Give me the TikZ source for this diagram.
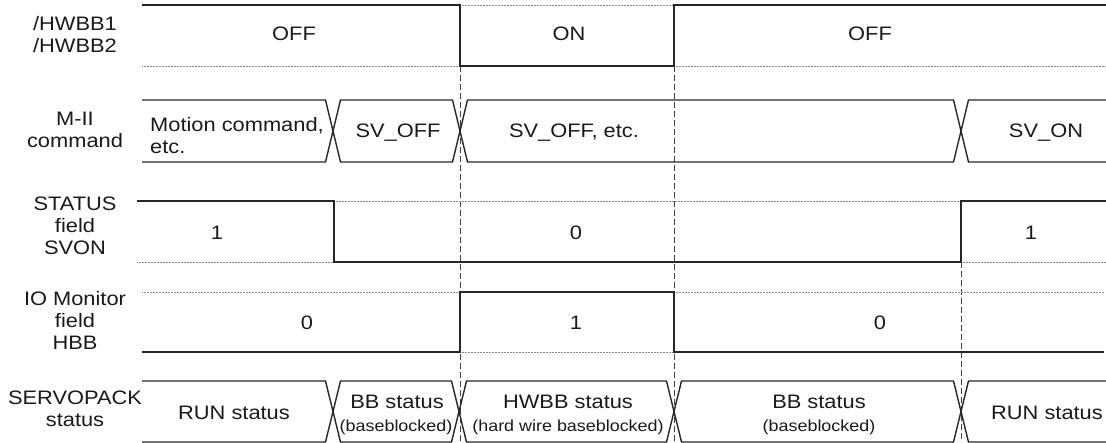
\documentclass[tikz,border=0pt]{standalone}
\usepackage{fontspec}
\setmainfont{Liberation Sans}[FakeStretch=1.12]
\tikzset{
  sig/.style={line width=1.4pt, black!85, line join=miter},
  dotl/.style={line width=0.7pt, black!45, dash pattern=on 1pt off 0.5pt},
  vdash/.style={line width=0.7pt, black!75, dash pattern=on 6pt off 3pt},
  txt/.style={font=\fontsize{19.5}{22}\selectfont, text=black!90, align=center, inner sep=0pt},
  sml/.style={font=\fontsize{16}{18}\selectfont, text=black!90, align=center, inner sep=0pt},
}
\begin{document}
\begin{tikzpicture}[x=1pt,y=-1pt]
\useasboundingbox (0,0) rectangle (1106,443);
% ---------- dashed guide lines ----------
\coordinate (d1t) at (460,66);  \coordinate (d1b) at (460,442);
\coordinate (d2t) at (674,66);  \coordinate (d2b) at (674,442);
\coordinate (d3t) at (961,262); \coordinate (d3b) at (961,442);
\draw[vdash] (d1t) -- (d1b);
\draw[vdash] (d2t) -- (d2b);
\draw[vdash] (d3t) -- (d3b);
% ---------- row 1: /HWBB ----------
\draw[dotl] (142,66) -- (460,66);
\draw[dotl] (460,5) -- (674,5);
\draw[dotl] (674,66) -- (1106,66);
\draw[sig] (142,5) -- (460,5) -- (460,66) -- (674,66) -- (674,5) -- (1106,5);
% ---------- row 2: M-II command ----------
\def\h{7.5}
\draw[sig] (142,100) -- (333-\h,100) -- (333,131) -- (333-\h,162) -- (142,162);
\draw[sig] (333+\h,100) -- (460-\h,100) -- (460,131) -- (460-\h,162) -- (333+\h,162) -- (333,131) -- cycle;
\draw[sig] (460+\h,100) -- (961-\h,100) -- (961,131) -- (961-\h,162) -- (460+\h,162) -- (460,131) -- cycle;
\draw[sig] (1106,100) -- (961+\h,100) -- (961,131) -- (961+\h,162) -- (1106,162);
% ---------- row 3: STATUS SVON ----------
\draw[dotl] (334,201) -- (961,201);
\draw[dotl] (137,262) -- (334,262);
\draw[dotl] (961,262) -- (1106,262);
\draw[sig] (137,201) -- (334,201) -- (334,262) -- (961,262) -- (961,201) -- (1106,201);
% ---------- row 4: IO Monitor HBB ----------
\draw[dotl] (142,292) -- (460,292);
\draw[dotl] (674,292) -- (1104,292);
\draw[dotl] (460,352) -- (674,352);
\draw[sig] (142,352) -- (460,352) -- (460,292) -- (674,292) -- (674,352) -- (1104,352);
% ---------- row 5: SERVOPACK status ----------
\draw[sig] (142,381) -- (333-\h,381) -- (333,411.5) -- (333-\h,442) -- (142,442);
\draw[sig] (333+\h,381) -- (459-\h,381) -- (459,411.5) -- (459-\h,442) -- (333+\h,442) -- (333,411.5) -- cycle;
\draw[sig] (459+\h,381) -- (674-\h,381) -- (674,411.5) -- (674-\h,442) -- (459+\h,442) -- (459,411.5) -- cycle;
\draw[sig] (674+\h,381) -- (961-\h,381) -- (961,411.5) -- (961-\h,442) -- (674+\h,442) -- (674,411.5) -- cycle;
\draw[sig] (1106,381) -- (961+\h,381) -- (961,411.5) -- (961+\h,442) -- (1106,442);
% ---------- left labels ----------
\node[txt] (l1) at (75,35) {/HWBB1\\/HWBB2};
\node[txt] (l2) at (75,130) {M-II\\command};
\node[txt] (l3) at (75,226) {STATUS\\field\\SVON};
\node[txt] (l4) at (75,320) {IO Monitor\\field\\HBB};
\node[txt] (l5) at (75,409) {SERVOPACK\\status};
% ---------- row texts ----------
\node[txt] (r1a) at (294,34) {OFF};
\node[txt] (r1b) at (569,34) {ON};
\node[txt] (r1c) at (870,34) {OFF};
\node[txt, anchor=west, align=left] (r2a) at (150,136) {Motion command,\\etc.};
\node[txt] (r2b) at (398,133) {SV\_OFF};
\node[txt] (r2c) at (574,133) {SV\_OFF, etc.};
\node[txt] (r2d) at (1046,133) {SV\_ON};
\node[txt] (r3a) at (217,233) {1};
\node[txt] (r3b) at (576,233) {0};
\node[txt] (r3c) at (1031,233) {1};
\node[txt] (r4a) at (307,323) {0};
\node[txt] (r4b) at (576,323) {1};
\node[txt] (r4c) at (880,323) {0};
\node[txt] (r5a) at (234,413) {RUN status};
\node[txt] (r5b) at (397,402) {BB status};
\node[sml] (r5bb) at (396,427) {(baseblocked)};
\node[txt] (r5c) at (568,402) {HWBB status};
\node[sml] (r5cc) at (568,427) {(hard wire baseblocked)};
\node[txt] (r5d) at (819,402) {BB status};
\node[sml] (r5dd) at (819,427) {(baseblocked)};
\node[txt, anchor=east] (r5e) at (1103,413) {RUN status};
\end{tikzpicture}
\end{document}
